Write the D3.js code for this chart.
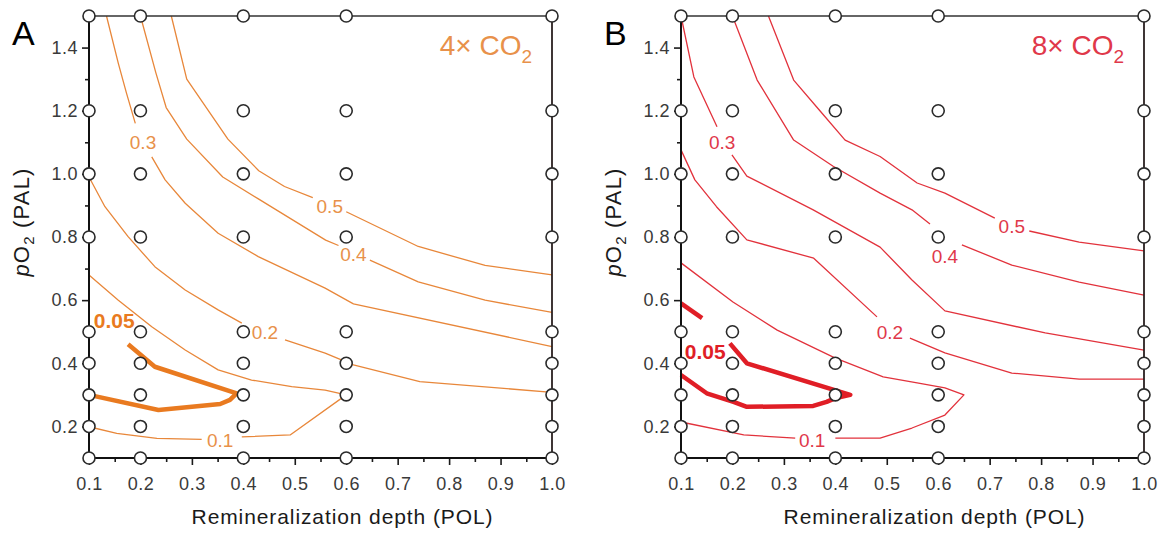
<!DOCTYPE html>
<html>
<head>
<meta charset="utf-8">
<script src="https://cdn.jsdelivr.net/npm/d3@7"></script>
<style>
  body { margin: 0; background: #fff; }
  svg { display: block; font-family: "Liberation Sans", Arial, Helvetica, sans-serif; }
</style>
</head>
<body>
<svg id="chart" width="1165" height="538"></svg>
<script>
// Model runs: remineralization depth (POL) x atmospheric pO2 (PAL)
const depthRuns = [0.1, 0.2, 0.4, 0.6, 1.0];
const o2Runs = [0.1, 0.2, 0.3, 0.4, 0.5, 0.8, 1.0, 1.2, 1.5];

// Axis ticks
const depthTicks = [0.1, 0.2, 0.3, 0.4, 0.5, 0.6, 0.7, 0.8, 0.9, 1.0];
const depthMinor = [0.15, 0.25, 0.35, 0.45, 0.55, 0.65, 0.75, 0.85, 0.95];
const o2Ticks = [0.2, 0.4, 0.6, 0.8, 1.0, 1.2, 1.4];
const o2Minor = [0.1, 0.3, 0.5, 0.7, 0.9, 1.1, 1.3, 1.5];

// 4x CO2 contours, [depth, pO2]; null breaks the line under its label
const x4_c05 = [[0.26,1.5],[0.29,1.30],[0.37,1.11],[0.43,1.01],[0.48,0.96],[0.535,0.925],null,[0.60,0.88],[0.74,0.77],[0.87,0.71],[1.0,0.68]];
const x4_c04 = [[0.2,1.5],[0.23,1.32],[0.25,1.21],[0.29,1.11],[0.36,0.99],[0.43,0.92],[0.56,0.79],[0.585,0.773],null,[0.646,0.727],[0.74,0.658],[0.87,0.60],[1.0,0.561]];
const x4_c03 = [[0.134,1.5],[0.157,1.35],[0.173,1.255],[0.19,1.16],null,[0.222,1.054],[0.248,0.981],[0.287,0.907],[0.351,0.812],[0.429,0.738],[0.559,0.638],[0.614,0.588],[1.0,0.453]];
const x4_c02 = [[0.1,0.99],[0.131,0.896],[0.176,0.801],[0.228,0.706],[0.287,0.632],[0.351,0.569],[0.397,0.527],null,[0.481,0.474],[0.559,0.432],[0.614,0.395],[0.743,0.342],[1.0,0.308]];
const x4_c01 = [[0.1,0.68],[0.157,0.60],[0.222,0.516],[0.287,0.442],[0.351,0.379],[0.416,0.347],[0.494,0.326],[0.559,0.315],[0.6,0.3],[0.491,0.173],[0.397,0.167],null,[0.319,0.159],[0.232,0.162],[0.154,0.178],[0.1,0.199]];
const x4_c005 = [[0.176,0.46],[0.228,0.389],[0.387,0.305],[0.374,0.284],[0.355,0.271],[0.235,0.252],[0.1,0.30]];
// label value, depth, pO2
const x4_labels = [[0.5,0.568,0.897],[0.4,0.614,0.743],[0.3,0.205,1.10],[0.2,0.442,0.497],[0.1,0.355,0.157],[0.05,0.149,0.537]];

// 8x CO2 contours
const x8_c05 = [[0.27,1.5],[0.319,1.297],[0.37,1.20],[0.419,1.107],[0.487,1.055],[0.559,0.971],[0.613,0.939],[0.71,0.86],null,[0.777,0.819],[0.874,0.784],[1.0,0.756]];
const x8_c04 = [[0.2,1.5],[0.248,1.297],[0.319,1.107],[0.395,1.025],[0.487,0.939],[0.549,0.886],[0.584,0.841],null,[0.646,0.775],[0.743,0.711],[0.874,0.657],[1.0,0.616]];
const x8_c03 = [[0.1,1.5],[0.125,1.307],[0.17,1.149],null,[0.199,1.06],[0.228,0.993],[0.357,0.886],[0.487,0.768],[0.549,0.664],[0.613,0.566],[0.808,0.496],[1.0,0.442]];
const x8_c02 = [[0.1,1.076],[0.127,0.981],[0.169,0.896],[0.228,0.791],[0.358,0.733],[0.481,0.547],null,[0.545,0.48],[0.613,0.433],[0.743,0.369],[0.874,0.35],[1.0,0.35]];
const x8_c01 = [[0.1,0.718],[0.201,0.594],[0.287,0.505],[0.399,0.417],[0.493,0.357],[0.559,0.338],[0.613,0.322],[0.65,0.30],[0.613,0.236],[0.549,0.195],[0.487,0.163],[0.40,0.163],null,[0.322,0.163],[0.222,0.173],[0.1,0.214]];
const x8_c005a = [[0.1,0.59],[0.141,0.543]];
const x8_c005b = [[0.195,0.463],[0.228,0.40],[0.429,0.30],[0.399,0.289],[0.383,0.278],[0.357,0.265],[0.228,0.262],[0.202,0.278],[0.15,0.305],[0.1,0.363]];
const x8_labels = [[0.5,0.743,0.832],[0.4,0.613,0.737],[0.3,0.18,1.10],[0.2,0.506,0.499],[0.1,0.355,0.157],[0.05,0.147,0.436]];

const svg = d3.select("#chart");
const plotTop = 16, plotBottom = 458;

const panels = [
  { letter: "A", mult: "4", x0: 89, x1: 552, color: "#E8873A", thick: "#E97A20", text: "#E8914A",
    thin: [x4_c05, x4_c04, x4_c03, x4_c02, x4_c01], bold: [x4_c005], labels: x4_labels },
  { letter: "B", mult: "8", x0: 681, x1: 1144, color: "#E2323C", thick: "#E01E26", text: "#E0384A",
    thin: [x8_c05, x8_c04, x8_c03, x8_c02, x8_c01], bold: [x8_c005a, x8_c005b], labels: x8_labels }
];

panels.forEach(p => {
  const x = d3.scaleLinear().domain([0.1, 1.0]).range([p.x0, p.x1]);
  const y = d3.scaleLinear().domain([0.1, 1.5]).range([plotBottom, plotTop]);
  const g = svg.append("g");
  const line = d3.line().defined(d => d !== null).x(d => x(d[0])).y(d => y(d[1]));

  // contour lines
  g.selectAll("path.thin").data(p.thin).join("path")
    .attr("class", "thin").attr("d", line)
    .attr("fill", "none").attr("stroke", p.color).attr("stroke-width", 1.3)
    .attr("stroke-linejoin", "round");
  g.selectAll("path.bold").data(p.bold).join("path")
    .attr("class", "bold").attr("d", line)
    .attr("fill", "none").attr("stroke", p.thick).attr("stroke-width", 4.5)
    .attr("stroke-linejoin", "round").attr("stroke-linecap", "butt");

  // contour labels
  g.selectAll("text.clab").data(p.labels).join("text")
    .attr("class", "clab")
    .attr("x", d => x(d[1])).attr("y", d => y(d[2]))
    .attr("text-anchor", "middle").attr("dominant-baseline", "central")
    .attr("font-size", d => d[0] === 0.05 ? 21 : 19)
    .attr("font-weight", d => d[0] === 0.05 ? "bold" : "normal")
    .attr("fill", d => d[0] === 0.05 ? p.thick : p.text)
    .text(d => String(d[0]));

  // axes
  const yMaj = d3.axisLeft(y).tickValues(o2Ticks).tickSize(7).tickSizeOuter(0).tickPadding(4).tickFormat(d3.format(".1f"));
  const yMin = d3.axisLeft(y).tickValues(o2Minor).tickSize(4).tickSizeOuter(0).tickFormat("");
  const xMaj = d3.axisBottom(x).tickValues(depthTicks).tickSize(7).tickSizeOuter(0).tickPadding(12).tickFormat(d3.format(".1f"));
  const xMin = d3.axisBottom(x).tickValues(depthMinor).tickSize(4).tickSizeOuter(0).tickFormat("");

  [[yMaj, `translate(${p.x0},0)`], [yMin, `translate(${p.x0},0)`],
   [xMaj, `translate(0,${plotBottom})`], [xMin, `translate(0,${plotBottom})`]].forEach(([ax, tr]) => {
    const a = g.append("g").attr("transform", tr).call(ax);
    a.select(".domain").remove();
    a.selectAll("line").attr("stroke", "#1a1a1a").attr("stroke-width", 1.6);
    a.selectAll("text").attr("font-size", 18).attr("fill", "#3a3a3a")
      .attr("letter-spacing", "0.5px").attr("font-family", "Liberation Sans, Arial, sans-serif");
  });

  // frame
  g.append("line").attr("x1", p.x0).attr("x2", p.x1).attr("y1", plotTop).attr("y2", plotTop)
    .attr("stroke", "#333").attr("stroke-width", 1.5);
  g.append("line").attr("x1", p.x1).attr("x2", p.x1).attr("y1", plotTop).attr("y2", plotBottom)
    .attr("stroke", "#2a2020").attr("stroke-width", 1.8);
  g.append("line").attr("x1", p.x0).attr("x2", p.x0).attr("y1", plotTop).attr("y2", plotBottom + 1)
    .attr("stroke", "#111").attr("stroke-width", 2);
  g.append("line").attr("x1", p.x0 - 1).attr("x2", p.x1).attr("y1", plotBottom).attr("y2", plotBottom)
    .attr("stroke", "#111").attr("stroke-width", 2);

  // run markers
  const runs = d3.cross(depthRuns, o2Runs);
  g.selectAll("circle.run").data(runs).join("circle")
    .attr("class", "run")
    .attr("cx", d => x(d[0])).attr("cy", d => y(d[1])).attr("r", 6)
    .attr("fill", "#fff").attr("stroke", "#2a2a2a").attr("stroke-width", 1.6);

  // panel letter
  g.append("text").attr("x", p.x0 - 77).attr("y", 45)
    .attr("font-size", 34).attr("fill", "#000").text(p.letter);

  // CO2 scenario title
  const t = g.append("text").attr("x", p.x1 - 20).attr("y", 54.5)
    .attr("text-anchor", "end").attr("font-size", 28).attr("fill", p.text);
  t.append("tspan").text(p.mult + "\u00D7 CO");
  t.append("tspan").attr("font-size", 19).attr("dy", 8).text("2");

  // axis titles
  g.append("text").attr("x", (p.x0 + p.x1) / 2 + 22).attr("y", 524)
    .attr("text-anchor", "middle").attr("font-size", 21).attr("letter-spacing", "0.9px")
    .attr("fill", "#1a1a1a").text("Remineralization depth (POL)");

  const yt = g.append("text")
    .attr("transform", `translate(${p.x0 - 60},222) rotate(-90)`)
    .attr("text-anchor", "middle").attr("font-size", 22).attr("letter-spacing", "1.2px")
    .attr("fill", "#1a1a1a");
  yt.append("tspan").attr("font-style", "italic").text("p");
  yt.append("tspan").text("O");
  yt.append("tspan").attr("font-size", 15).attr("dy", 5).text("2");
  yt.append("tspan").attr("dy", -5).text(" (PAL)");
});
</script>
</body>
</html>
